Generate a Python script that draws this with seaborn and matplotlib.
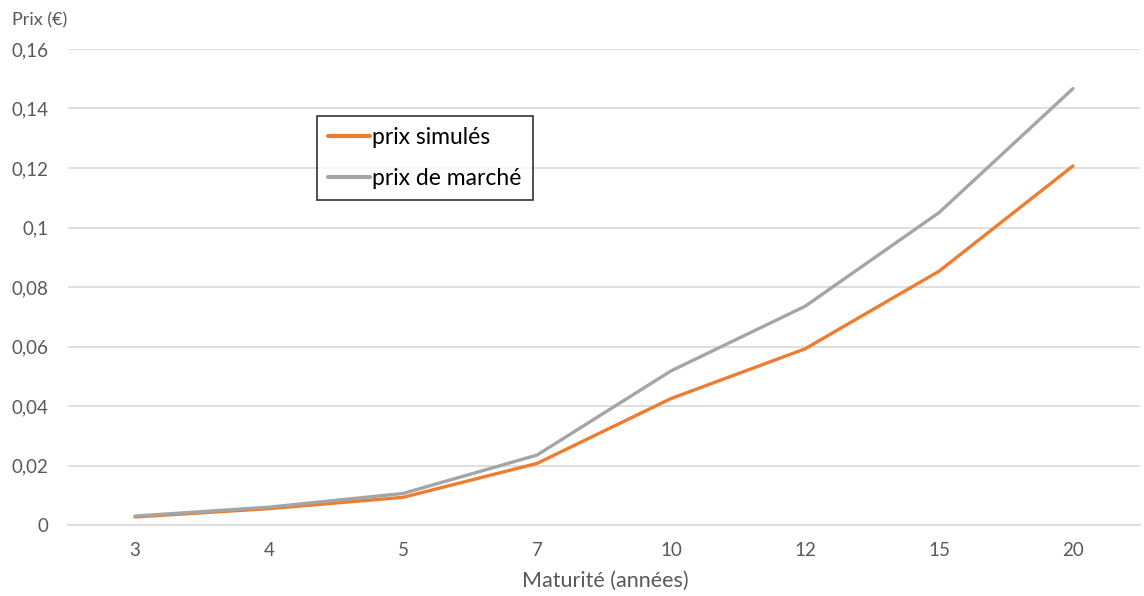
import matplotlib
matplotlib.use("Agg")
import matplotlib.pyplot as plt
import seaborn as sns
import pandas as pd
from matplotlib.lines import Line2D

maturities = ["3", "4", "5", "7", "10", "12", "15", "20"]
prix_simules = [0.0027, 0.0055, 0.0093, 0.0207, 0.0425, 0.0592, 0.0853, 0.1207]
prix_marche = [0.0030, 0.0060, 0.0106, 0.0235, 0.0518, 0.0735, 0.1050, 0.1467]
series_names = ["prix simulés", "prix de marché"]
y_ticks = [0, 0.02, 0.04, 0.06, 0.08, 0.1, 0.12, 0.14, 0.16]
y_tick_labels = ["0", "0,02", "0,04", "0,06", "0,08", "0,1", "0,12", "0,14", "0,16"]

df = pd.DataFrame({
    "Maturité": maturities * 2,
    "Prix": prix_simules + prix_marche,
    "Série": [series_names[0]] * len(maturities) + [series_names[1]] * len(maturities),
})

sns.set_theme(style="white")
plt.rcParams["font.family"] = ["Lato", "DejaVu Sans"]

fig = plt.figure(figsize=(11.44, 5.96), dpi=100)
ax = fig.add_axes([68 / 1144, 1 - 525 / 596, (1140 - 68) / 1144, (525 - 49) / 596])

sns.lineplot(data=df, x="Maturité", y="Prix", hue="Série", sort=False,
             palette={series_names[0]: "#ED7D31", series_names[1]: "#A5A5A5"},
             linewidth=2.4, ax=ax, legend=False)

ax.set_xlim(-0.5, len(maturities) - 0.5)
ax.set_ylim(0, 0.16)
ax.set_yticks(y_ticks)
ax.set_yticklabels(y_tick_labels)
ax.yaxis.grid(True, color="#d9d9d9", linewidth=1.2)
ax.set_axisbelow(True)
for s in ["top", "right", "left"]:
    ax.spines[s].set_visible(False)
ax.spines["bottom"].set_color("#d9d9d9")
ax.spines["bottom"].set_linewidth(1.2)
ax.tick_params(axis="both", length=0, labelsize=13.5, colors="#595959")
ax.tick_params(axis="x", pad=12)
ax.tick_params(axis="y", pad=14)
ax.set_xlabel("")
ax.set_ylabel("")

fig.text(12 / 1144, 1 - 20 / 596, "Prix (€)", fontsize=13, color="#595959",
         ha="left", va="center")
fig.text(605 / 1144, 1 - 581 / 596, "Maturité (années)", fontsize=15.5, color="#595959",
         ha="center", va="center")

handles = [Line2D([], [], color="#ED7D31", linewidth=3),
           Line2D([], [], color="#A5A5A5", linewidth=3)]
leg = ax.legend(handles, series_names, loc="upper left",
                bbox_to_anchor=((317 - 68) / 1072, (525 - 116) / 476),
                frameon=True, fancybox=False, fontsize=16.5, handlelength=1.8,
                handletextpad=0.1, borderpad=0.5, labelspacing=0.85,
                borderaxespad=0)
leg.get_frame().set_edgecolor("black")
leg.get_frame().set_linewidth(1.2)
for t in leg.get_texts():
    t.set_color("black")

fig.savefig("out.png", dpi=100, facecolor="white")
